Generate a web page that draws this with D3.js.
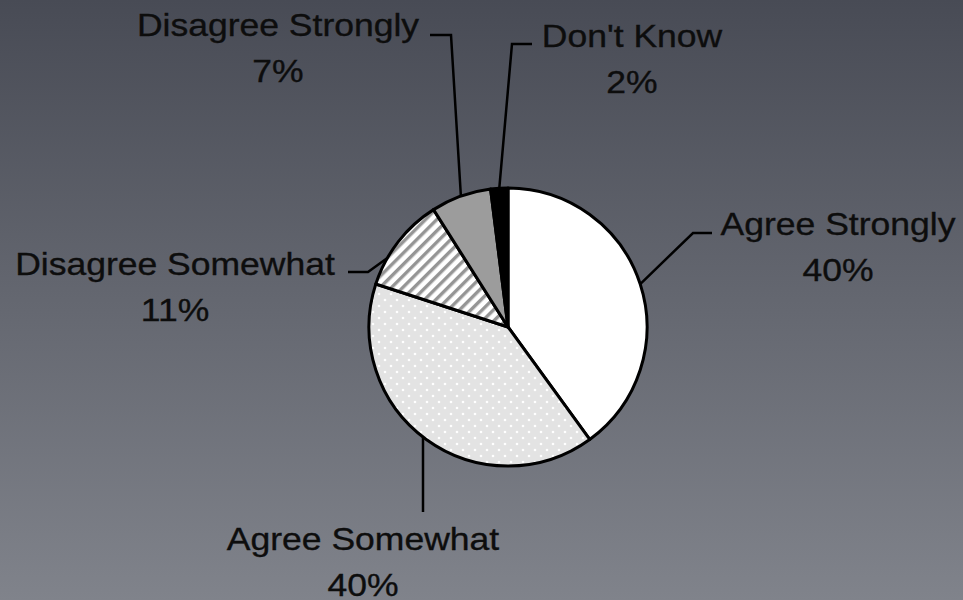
<!DOCTYPE html>
<html>
<head>
<meta charset="utf-8">
<script src="https://cdn.jsdelivr.net/npm/d3@7"></script>
<style>
  html, body { margin: 0; padding: 0; overflow: hidden; }
  svg { display: block; }
  text { font-family: "Liberation Sans", Arial, sans-serif; fill: #0d0d0d; stroke: #0d0d0d; stroke-width: 0.35; }
</style>
</head>
<body>
<div id="main"></div>
<script>
// survey answers, clockwise from 12 o'clock
const categories = ["Agree Strongly", "Agree Somewhat", "Disagree Somewhat", "Disagree Strongly", "Don't Know"];
const values = [40, 40, 11, 7, 2];
const fills = ["#ffffff", "url(#dots)", "url(#stripes)", "#9c9c9c", "#000000"];

// where each label sits + leader elbow points (hand placed, like the original)
const labelLayout = [
  { elbow: [[693, 233], [712, 233]], x: 838, y: 235 },
  { elbow: [[423, 512]], x: 363, y: 550, startX: 423 },
  { elbow: [[368, 272], [348, 272]], x: 175, y: 275, nudge: -8 },
  { elbow: [[451, 35], [430, 35]], x: 278, y: 36 },
  { elbow: [[512, 44], [532, 44]], x: 632, y: 47 }
];

document.addEventListener("DOMContentLoaded", () => {
  const width = 963, height = 600;
  const cx = 508, cy = 327, r = 139;

  const svg = d3.select("#main").append("svg")
    .attr("width", width)
    .attr("height", height);

  const defs = svg.append("defs");

  let bg = defs.append("linearGradient")
    .attr("id", "bg")
    .attr("x1", 0).attr("y1", 0).attr("x2", 0).attr("y2", 1);
  bg.append("stop").attr("offset", "0%").attr("stop-color", "#484b55");
  bg.append("stop").attr("offset", "100%").attr("stop-color", "#80838b");

  // light dotted fill
  let dots = defs.append("pattern")
    .attr("id", "dots")
    .attr("patternUnits", "userSpaceOnUse")
    .attr("width", 12).attr("height", 12);
  dots.append("rect").attr("width", 12).attr("height", 12).attr("fill", "#e3e3e3");
  dots.append("circle").attr("cx", 3).attr("cy", 3).attr("r", 1.3).attr("fill", "#fff");
  dots.append("circle").attr("cx", 9).attr("cy", 9).attr("r", 1.3).attr("fill", "#fff");

  // diagonal stripes
  let stripes = defs.append("pattern")
    .attr("id", "stripes")
    .attr("patternUnits", "userSpaceOnUse")
    .attr("width", 8).attr("height", 8)
    .attr("patternTransform", "rotate(45)");
  stripes.append("rect").attr("width", 8).attr("height", 8).attr("fill", "#fff");
  stripes.append("rect").attr("width", 3.4).attr("height", 8).attr("fill", "#959595");

  svg.append("rect")
    .attr("width", width).attr("height", height)
    .attr("fill", "url(#bg)");

  const pie = d3.pie().sort(null).value(d => d);
  const arcs = pie(values);

  const arc = d3.arc().innerRadius(0).outerRadius(r);

  const g = svg.append("g").attr("transform", `translate(${cx},${cy})`);

  g.selectAll("path.slice")
    .data(arcs)
    .enter()
    .append("path")
    .attr("class", "slice")
    .attr("d", arc)
    .attr("fill", (d, i) => fills[i])
    .attr("stroke", "#000")
    .attr("stroke-width", 3)
    .attr("stroke-linejoin", "round");

  // leader lines + labels
  const line = d3.line();
  arcs.forEach((d, i) => {
    const lay = labelLayout[i];
    let a = (d.startAngle + d.endAngle) / 2 + (lay.nudge || 0) * Math.PI / 180;
    let sx = cx + r * Math.sin(a);
    let sy = cy - r * Math.cos(a);
    if (lay.startX !== undefined) {
      sx = lay.startX;
      sy = cy + Math.sqrt(r * r - (sx - cx) * (sx - cx));
    }
    const pts = [[sx, sy]].concat(lay.elbow);
    svg.append("path")
      .attr("d", line(pts))
      .attr("fill", "none")
      .attr("stroke", "#000")
      .attr("stroke-width", 2.5);

    svg.append("text")
      .attr("transform", `translate(${lay.x},${lay.y}) scale(1.11,1)`)
      .attr("text-anchor", "middle")
      .attr("font-size", 32)
      .text(categories[i]);

    svg.append("text")
      .attr("transform", `translate(${lay.x},${lay.y + 46}) scale(1.11,1)`)
      .attr("text-anchor", "middle")
      .attr("font-size", 32)
      .text(values[i] + "%");
  });
});
</script>
</body>
</html>
